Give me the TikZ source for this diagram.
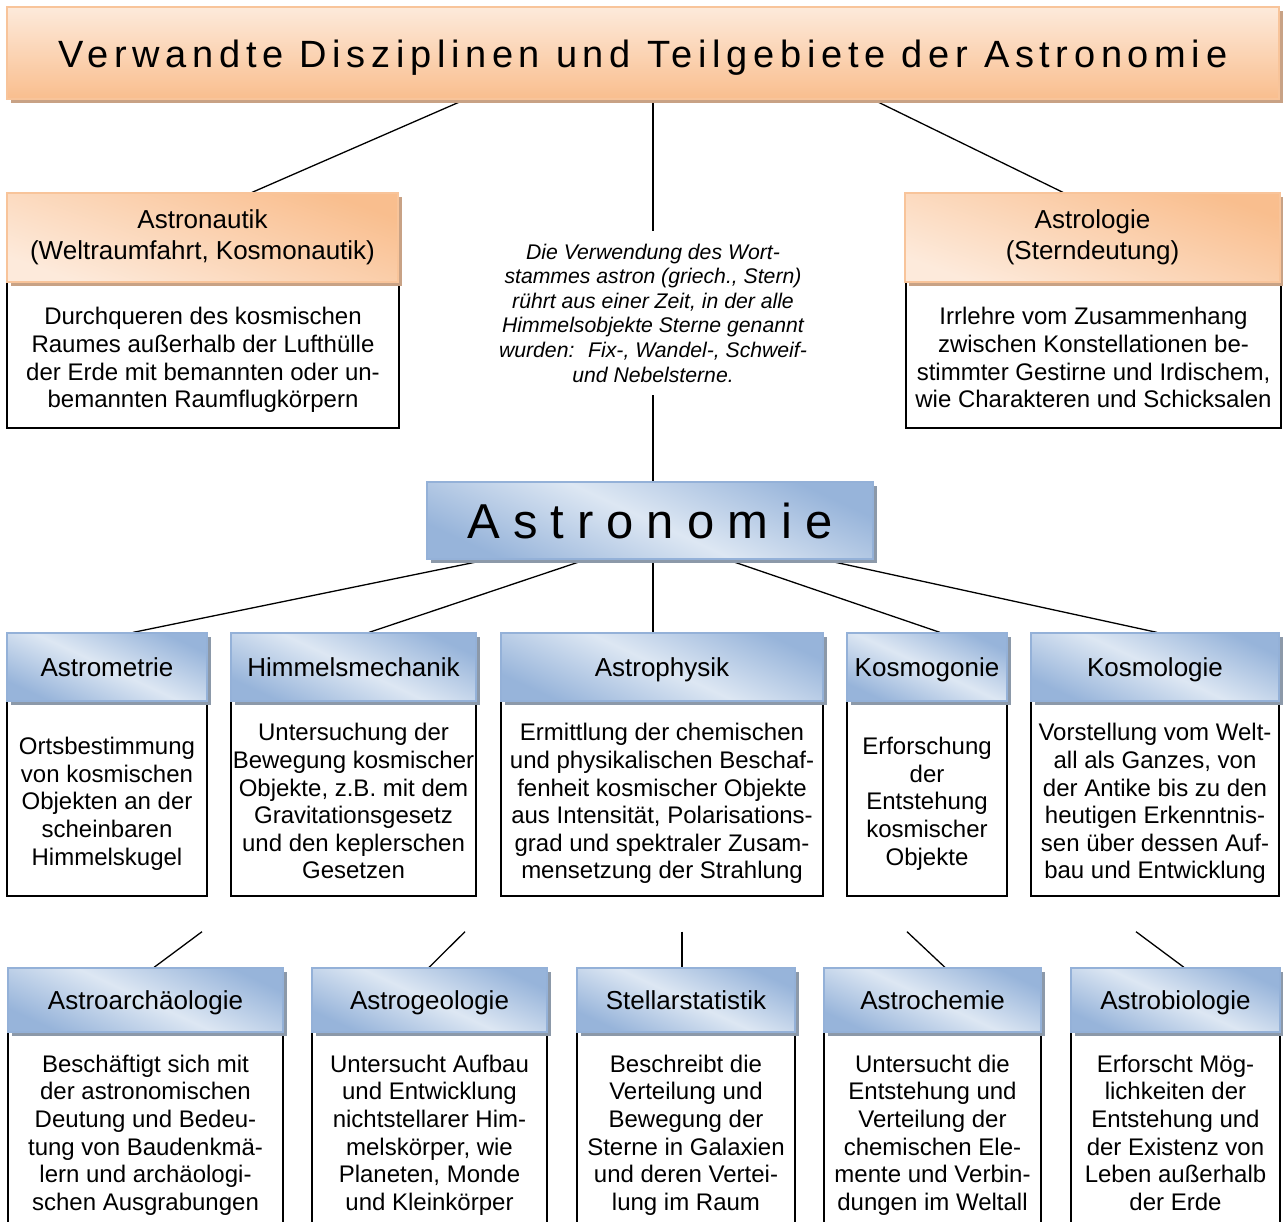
\documentclass[tikz,border=0pt]{standalone}
\usepackage{fontspec}
\setmainfont{Liberation Sans}
\newfontfamily\titlefam[LetterSpace=14.9]{Liberation Sans}
\newfontfamily\astrofam[LetterSpace=26.5]{Liberation Sans}
\usetikzlibrary{shadows,backgrounds}
\definecolor{olight}{HTML}{FDEADB}
\definecolor{odark}{HTML}{F9BE8E}
\definecolor{oborder}{HTML}{F8C49A}
\definecolor{oshadow}{HTML}{C8A285}
\definecolor{blight}{HTML}{DDE7F3}
\definecolor{bdark}{HTML}{97B4DA}
\definecolor{bborder}{HTML}{94B1D8}
\definecolor{bshadow}{HTML}{8C99A9}
\newcommand{\bodytxt}[1]{\begin{tabular}{@{}c@{}}\rule{0pt}{31pt}#1\end{tabular}}
\begin{document}
\begin{tikzpicture}[x=1pt,y=-1pt,
  conn/.style={line width=1.3pt, draw=black},
  titlebox/.style={draw=oborder, line width=1.2pt, top color=olight, bottom color=odark,
    general shadow={fill=oshadow, shadow xshift=4pt, shadow yshift=-4pt},
    inner sep=0pt, text height=30pt, text depth=0pt, font={\titlefam\fontsize{38}{44}\selectfont}},
  orangehdr/.style={draw=oborder, line width=1.2pt, top color=odark, bottom color=olight, shading angle=-20,
    general shadow={fill=oshadow, shadow xshift=4pt, shadow yshift=-4pt},
    inner sep=0pt, align=center, font={\fontsize{26}{31}\selectfont}},
  astrobox/.style={draw=bborder, line width=1.2pt, top color=bdark, bottom color=bdark, middle color=blight, shading angle=-25,
    general shadow={fill=bshadow, shadow xshift=4pt, shadow yshift=-4pt},
    inner sep=0pt, text depth=0pt, font={\astrofam\fontsize{49}{56}\selectfont}},
  bluehdr/.style={draw=bborder, line width=1.2pt, top color=bdark, bottom color=bdark, middle color=blight, shading angle=-25,
    general shadow={fill=bshadow, shadow xshift=4pt, shadow yshift=-4pt},
    inner sep=0pt, text depth=0pt, font={\fontsize{26}{31}\selectfont}},
  bodybox/.style={draw=black, line width=1.4pt, fill=white, inner sep=0pt,
    font={\fontsize{24}{27.6}\selectfont}},
  notetext/.style={align=center, inner xsep=0pt, inner ysep=13pt, font={\fontsize{21.2}{24.6}\selectfont\itshape}}
]
\useasboundingbox (0,0) rectangle (1283,1222);

% title
\node[titlebox, minimum width=1272pt, minimum height=92pt] (title) at (643,53) {Verwandte Disziplinen und Teilgebiete der Astronomie};

% Astronautik
\node[bodybox, minimum width=392pt, minimum height=146pt] (bAstronautik) at (203,355)
  {\bodytxt{Durchqueren des kosmischen\\Raumes außerhalb der Lufthülle\\der Erde mit bemannten oder un-\\bemannten Raumflugkörpern}};
\node[orangehdr, minimum width=391pt, minimum height=89pt] (hAstronautik) at (202.5,237.5)
  {Astronautik\\(Weltraumfahrt, Kosmonautik)};

% Astrologie
\node[bodybox, minimum width=375pt, minimum height=146pt] (bAstrologie) at (1093.5,355)
  {\bodytxt{Irrlehre vom Zusammenhang\\zwischen Konstellationen be-\\stimmter Gestirne und Irdischem,\\wie Charakteren und Schicksalen}};
\node[orangehdr, minimum width=375pt, minimum height=89pt] (hAstrologie) at (1092.5,237.5)
  {Astrologie\\(Sterndeutung)};

% note
\node[notetext] (note) at (653,313)
  {Die Verwendung des Wort-\\stammes astron (griech., Stern)\\rührt aus einer Zeit, in der alle\\Himmelsobjekte Sterne genannt\\wurden:~ Fix-, Wandel-, Schweif-\\und Nebelsterne.};

% Astronomie
\node[astrobox, minimum width=446pt, minimum height=77pt] (astro) at (650,520.5) {Astronomie};

% row 2
\node[bodybox, minimum width=200pt, minimum height=195pt] (bAstrometrie) at (107,798.5)
  {\bodytxt{Ortsbestimmung\\von kosmischen\\Objekten an der\\scheinbaren\\Himmelskugel}};
\node[bluehdr, minimum width=200pt, minimum height=68pt] (hAstrometrie) at (107,667) {Astrometrie};

\node[bodybox, minimum width=245pt, minimum height=195pt] (bHimmel) at (353.5,798.5)
  {\bodytxt{Untersuchung der\\Bewegung kosmischer\\Objekte, z.B. mit dem\\Gravitationsgesetz\\und den keplerschen\\Gesetzen}};
\node[bluehdr, minimum width=245pt, minimum height=68pt] (hHimmel) at (353.5,667) {Himmelsmechanik};

\node[bodybox, minimum width=322pt, minimum height=195pt] (bPhysik) at (662,798.5)
  {\bodytxt{Ermittlung der chemischen\\und physikalischen Beschaf-\\fenheit kosmischer Objekte\\aus Intensität, Polarisations-\\grad und spektraler Zusam-\\mensetzung der Strahlung}};
\node[bluehdr, minimum width=322pt, minimum height=68pt] (hPhysik) at (662,667) {Astrophysik};

\node[bodybox, minimum width=160pt, minimum height=195pt] (bGonie) at (927,798.5)
  {\bodytxt{Erforschung\\der\\Entstehung\\kosmischer\\Objekte}};
\node[bluehdr, minimum width=160pt, minimum height=68pt] (hGonie) at (927,667) {Kosmogonie};

\node[bodybox, minimum width=248pt, minimum height=195pt] (bLogie) at (1155,798.5)
  {\bodytxt{Vorstellung vom Welt-\\all als Ganzes, von\\der Antike bis zu den\\heutigen Erkenntnis-\\sen über dessen Auf-\\bau und Entwicklung}};
\node[bluehdr, minimum width=248pt, minimum height=68pt] (hLogie) at (1155,667) {Kosmologie};

% row 3
\node[bodybox, minimum width=275pt, minimum height=196pt] (bArch) at (145.5,1130)
  {\bodytxt{Beschäftigt sich mit\\der astronomischen\\Deutung und Bedeu-\\tung von Baudenkmä-\\lern und archäologi-\\schen Ausgrabungen}};
\node[bluehdr, minimum width=275pt, minimum height=64pt] (hArch) at (145.5,1000) {Astroarchäologie};

\node[bodybox, minimum width=235pt, minimum height=196pt] (bGeo) at (429.5,1130)
  {\bodytxt{Untersucht Aufbau\\und Entwicklung\\nichtstellarer Him-\\melskörper, wie\\Planeten, Monde\\und Kleinkörper}};
\node[bluehdr, minimum width=235pt, minimum height=64pt] (hGeo) at (429.5,1000) {Astrogeologie};

\node[bodybox, minimum width=218pt, minimum height=196pt] (bStat) at (686,1130)
  {\bodytxt{Beschreibt die\\Verteilung und\\Bewegung der\\Sterne in Galaxien\\und deren Vertei-\\lung im Raum}};
\node[bluehdr, minimum width=218pt, minimum height=64pt] (hStat) at (686,1000) {Stellarstatistik};

\node[bodybox, minimum width=217pt, minimum height=196pt] (bChem) at (932.5,1130)
  {\bodytxt{Untersucht die\\Entstehung und\\Verteilung der\\chemischen Ele-\\mente und Verbin-\\dungen im Weltall}};
\node[bluehdr, minimum width=217pt, minimum height=64pt] (hChem) at (932.5,1000) {Astrochemie};

\node[bodybox, minimum width=209pt, minimum height=196pt] (bBio) at (1175.5,1130)
  {\bodytxt{Erforscht Mög-\\lichkeiten der\\Entstehung und\\der Existenz von\\Leben außerhalb\\der Erde}};
\node[bluehdr, minimum width=209pt, minimum height=64pt] (hBio) at (1175.5,1000) {Astrobiologie};

\begin{pgfonlayer}{background}
\fill[white] (0,0) rectangle (1283,1222);
\draw[conn] ([xshift=-178pt]title.south) -- ([xshift=49.5pt]hAstronautik.north);
\draw[conn] ([xshift=230pt]title.south) -- ([xshift=-29.5pt]hAstrologie.north);
\draw[conn] ([xshift=10pt]title.south) -- (note.north);
\draw[conn] (note.south) -- ([xshift=3pt]astro.north);
\draw[conn] ([xshift=-162pt]astro.south) -- ([xshift=26pt]hAstrometrie.north);
\draw[conn] ([xshift=-64pt]astro.south) -- ([xshift=15.5pt]hHimmel.north);
\draw[conn] ([xshift=3pt]astro.south) -- ([xshift=-9pt]hPhysik.north);
\draw[conn] ([xshift=77pt]astro.south) -- ([xshift=13pt]hGonie.north);
\draw[conn] ([xshift=173pt]astro.south) -- ([xshift=2pt]hLogie.north);
\draw[conn] ([xshift=95pt,yshift=-35pt]bAstrometrie.south) -- ([xshift=8.5pt]hArch.north);
\draw[conn] ([xshift=111.5pt,yshift=-35pt]bHimmel.south) -- ([xshift=-0.5pt]hGeo.north);
\draw[conn] ([xshift=20pt,yshift=-35pt]bPhysik.south) -- ([xshift=-4pt]hStat.north);
\draw[conn] ([xshift=-20pt,yshift=-35pt]bGonie.south) -- ([xshift=12.5pt]hChem.north);
\draw[conn] ([xshift=-19pt,yshift=-35pt]bLogie.south) -- ([xshift=8.5pt]hBio.north);
\end{pgfonlayer}
\end{tikzpicture}
\end{document}
